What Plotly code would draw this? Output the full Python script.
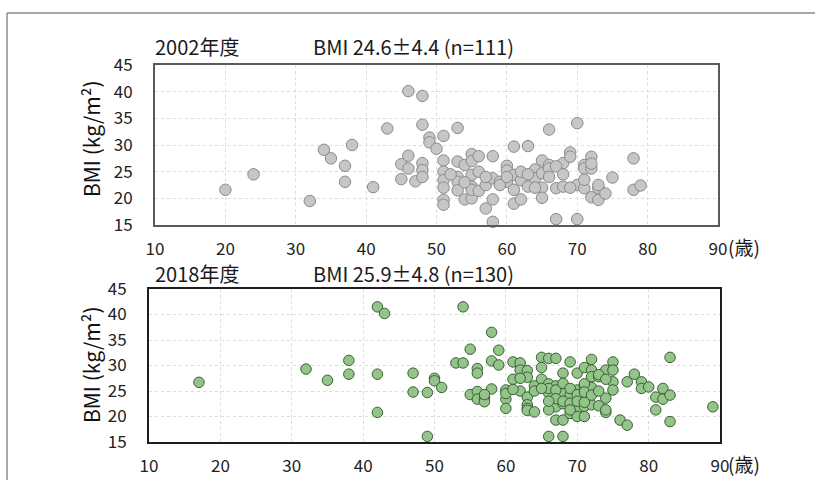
import plotly.graph_objects as go

# ---- 2002 data (age, BMI) ----
age_2002 = [20, 24, 32, 34, 35, 37, 37, 38, 41, 43, 45, 45, 46, 46, 46, 47, 48, 48, 48, 48, 48, 49, 49, 50,
            51, 51, 51, 51, 51, 51, 51,
            53, 53, 53, 53, 53,
            54, 54,
            55, 55, 55, 55, 55, 55,
            56, 56, 56,
            57, 57,
            58, 58, 58, 58,
            59,
            60, 60, 60,
            61, 61, 61, 61,
            62, 62,
            63, 63,
            64, 64,
            65, 65, 65, 65,
            66, 66, 66,
            67, 67,
            68, 68,
            69, 69,
            70, 70, 70,
            71, 71, 71,
            72, 72, 72,
            73, 73,
            74, 75, 78, 78, 79,
            52, 54, 57, 59, 60, 62, 63, 64, 66, 67, 68, 69, 71, 72, 73]
bmi_2002 = [21.6, 24.5, 19.5, 29.1, 27.5, 26.1, 23.1, 30.0, 22.1, 33.1, 23.6, 26.4, 28.0, 25.6, 40.1, 23.2, 39.2, 33.8, 26.6, 25.3, 24.0, 31.4, 30.5, 29.3,
            31.7, 27.1, 25.0, 23.4, 22.0, 19.7, 18.8,
            33.2, 26.9, 24.0, 23.1, 21.5,
            26.25, 19.8,
            28.3, 27.0, 24.4, 22.2, 20.0, 21.6,
            27.9, 25.0, 21.4,
            22.5, 18.1,
            27.9, 23.75, 19.8, 15.6,
            23.1,
            26.1, 25.2, 23.1,
            29.7, 24.4, 21.6, 19.0,
            23.4, 19.8,
            29.8, 22.2,
            25.4, 23.75,
            27.1, 24.7, 22.0, 20.1,
            32.9, 26.25, 25.6,
            21.9, 16.1,
            26.6, 22.2,
            28.6, 27.8,
            34.1, 22.5, 16.1,
            26.25, 25.6, 21.9,
            27.8, 25.6, 20.2,
            21.9, 19.7,
            20.9, 23.9, 27.5, 21.6, 22.4,
            24.5, 23.0, 24.0, 22.5, 24.0, 25.0, 24.5, 22.0, 24.0, 26.0, 24.5, 22.0, 23.5, 26.5, 22.5]

# ---- 2018 data (age, BMI) ----
age_2018 = [17, 32, 35, 38, 38, 42, 42, 42, 43, 47, 47, 49, 49, 50, 50, 51, 53, 54, 54, 55, 55,
            56, 56, 56, 56, 57, 57, 58, 58, 58, 59, 59, 60, 60, 60, 61, 61, 62, 62, 62,
            63, 63, 63, 63, 63, 63, 64, 64, 65, 65, 65, 66, 66, 66, 66,
            67, 67, 67, 67, 68, 68, 68, 68, 68, 69, 69, 69, 70, 70, 70, 70,
            71, 71, 71, 71, 72, 72, 72, 72, 72, 73, 73, 74, 74, 74, 74,
            75, 75, 75, 75, 76, 77, 77, 78, 79, 79, 80, 81, 81, 82, 82, 83, 83, 83, 89,
            66, 66, 67, 67, 68, 68, 69, 69, 69, 70, 70, 71, 71, 71, 72, 73, 73, 64, 65, 66,
            57, 60, 62, 61, 74]
bmi_2018 = [26.7, 29.3, 27.1, 31.0, 28.3, 41.5, 28.3, 20.8, 40.2, 28.5, 24.8, 24.7, 16.1, 27.5, 27.0, 25.7, 30.5, 41.5, 30.5, 33.2, 24.3,
            29.4, 28.5, 24.9, 23.4, 23.6, 22.9, 36.5, 30.9, 25.4, 33.0, 30.1, 25.2, 23.4, 21.6, 30.7, 27.3, 30.5, 29.1, 25.0,
            29.0, 27.7, 23.8, 22.3, 21.6, 21.2, 26.0, 20.9, 31.6, 29.6, 27.3, 31.4, 26.4, 24.6, 16.1,
            31.4, 26.0, 21.9, 19.3, 28.5, 24.5, 22.5, 19.3, 16.1, 30.7, 24.2, 20.6, 28.5, 25.2, 21.6, 20.0,
            29.6, 26.0, 22.0, 20.0, 31.2, 29.1, 27.8, 25.7, 22.3, 27.8, 22.1, 29.1, 23.6, 20.8, 21.3,
            30.7, 29.1, 26.8, 25.2, 19.3, 26.8, 18.3, 28.3, 26.8, 25.5, 25.8, 23.8, 21.3, 25.5, 23.4, 31.6, 24.2, 19.0, 21.9,
            21.3, 25.5, 25.2, 23.5, 23.0, 26.5, 22.6, 21.3, 25.5, 24.3, 23.0, 26.4, 22.8, 24.8, 24.2, 28.2, 25.0, 25.0, 25.5, 23.0,
            24.3, 24.5, 27.5, 25.3, 27.3]

x_ticks = [10, 20, 30, 40, 50, 60, 70, 80, 90]
y_ticks = [15, 20, 25, 30, 35, 40, 45]

W, H = 815, 480
def px(x): return x / W
def py(y): return 1 - y / H

TXT = "Noto Sans CJK JP, sans-serif"

fig = go.Figure()
fig.add_trace(go.Scatter(x=age_2002, y=bmi_2002, mode="markers", xaxis="x", yaxis="y",
                         cliponaxis=False, hoverinfo="skip",
                         marker=dict(size=11.5, color="#c6c6c6", line=dict(color="#8a8a8a", width=1))))
fig.add_trace(go.Scatter(x=age_2018, y=bmi_2018, mode="markers", xaxis="x2", yaxis="y2",
                         cliponaxis=False, hoverinfo="skip",
                         marker=dict(size=10.5, color="#93c58a", line=dict(color="#3b5e33", width=1))))

def xax(domain, color):
    return dict(domain=domain, range=[10, 90], tickvals=x_ticks, ticktext=[str(v) for v in x_ticks],
                automargin=False,
                showgrid=True, gridcolor="#dcdcdc", griddash="dot", gridwidth=1,
                showline=True, mirror=True, linecolor=color, linewidth=2, zeroline=False,
                ticks="", ticklabelstandoff=8, tickfont=dict(family=TXT, size=17, color="#222"))

def yax(domain, color, anchor):
    return dict(domain=domain, range=[15, 45], tickvals=y_ticks, anchor=anchor,
                automargin=False,
                showgrid=True, gridcolor="#dcdcdc", griddash="dot", gridwidth=1,
                showline=True, mirror=True, linecolor=color, linewidth=2, zeroline=False,
                ticks="", ticklabelstandoff=17, tickfont=dict(family=TXT, size=17, color="#222"))

fig.update_layout(
    width=W, height=H, autosize=False,
    margin=dict(l=0, r=0, t=0, b=0, pad=0),
    paper_bgcolor="white", plot_bgcolor="white",
    showlegend=False,
    xaxis=dict(xax([px(155), px(718)], "#5a5a5a"), anchor="y"),
    yaxis=yax([py(225), py(65)], "#5a5a5a", "x"),
    xaxis2=dict(xax([px(149), px(720)], "#1e1e1e"), anchor="y2"),
    yaxis2=yax([py(442), py(289)], "#1e1e1e", "x2"),
)

ann = []
def add_text(text, x, y, size, family, xanchor="left", angle=0, color="#1a1a1a"):
    ann.append(dict(text=text, x=px(x), y=py(y), xref="paper", yref="paper", showarrow=False,
                    xanchor=xanchor, yanchor="middle", textangle=angle,
                    font=dict(family=family, size=size, color=color)))

add_text("2002年度", 153, 46, 20, TXT)
add_text("BMI 24.6±4.4 (n=111)", 311, 46, 20, TXT)
add_text("2018年度", 153, 273, 20, TXT)
add_text("BMI 25.9±4.8 (n=130)", 311, 273, 20, TXT)
add_text("BMI (kg/m²)", 91, 139, 21, TXT, xanchor="center", angle=-90, color="#111")
add_text("BMI (kg/m²)", 91, 365, 21, TXT, xanchor="center", angle=-90, color="#111")
add_text("(歳)", 726, 247, 19, TXT)
add_text("(歳)", 726, 463, 19, TXT)
fig.update_layout(annotations=ann)

# outer frame (top and left lines)
fig.add_shape(type="line", xref="paper", yref="paper", x0=px(7), x1=1.0, y0=py(13), y1=py(13),
              line=dict(color="#8a8a8a", width=1.5))
fig.add_shape(type="line", xref="paper", yref="paper", x0=px(7), x1=px(7), y0=py(13), y1=0,
              line=dict(color="#8a8a8a", width=1.5))

fig.write_html("out.html", config={"displayModeBar": False},
               post_script="document.body.style.margin='0px';")
